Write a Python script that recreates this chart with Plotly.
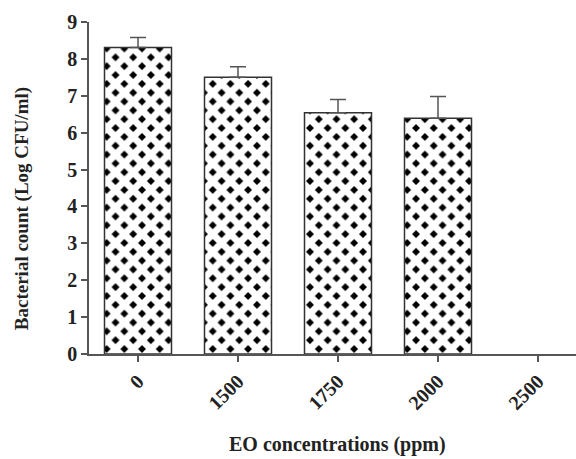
import plotly.graph_objects as go

categories = ["0", "1500", "1750", "2000", "2500"]
values = [8.31, 7.50, 6.54, 6.39, 0]
errors = [0.27, 0.29, 0.36, 0.59, 0]
x_title = "EO concentrations (ppm)"
y_title = "Bacterial count (Log CFU/ml)"

font_family = "Liberation Serif, Times New Roman, serif"
txt = "#222222"

has_bar = [v > 0 for v in values]

fig = go.Figure()
fig.add_trace(go.Bar(
    x=categories,
    y=values,
    width=0.67,
    marker=dict(
        color="white",
        line=dict(color=["#333333" if h else "rgba(0,0,0,0)" for h in has_bar],
                  width=1.5),
        pattern=dict(shape="x", fgcolor="white", bgcolor="black",
                     size=12.5, solidity=0.8, fillmode="replace"),
    ),
))
# error bars only on categories that have a bar
ex = [c for c, h in zip(categories, has_bar) if h]
ey = [v for v, h in zip(values, has_bar) if h]
ee = [e for e, h in zip(errors, has_bar) if h]
fig.add_trace(go.Scatter(
    x=ex, y=ey, mode="markers",
    marker=dict(size=1, color="rgba(0,0,0,0)"),
    hoverinfo="skip",
    error_y=dict(type="data", symmetric=False, array=ee,
                 arrayminus=[0] * len(ee),
                 color="#555555", thickness=1.5, width=8),
))

fig.update_layout(
    width=576, height=459,
    margin=dict(l=89, r=0, t=22, b=105, autoexpand=False),
    paper_bgcolor="white", plot_bgcolor="white",
    showlegend=False,
    font=dict(family=font_family, color=txt),
    xaxis=dict(
        range=[-0.49, 4.38], automargin=False,
        showline=True, linecolor="#555555", linewidth=1.5,
        ticks="outside", ticklen=6, tickcolor="#555555", tickwidth=1.5,
        tickangle=-45,
        tickfont=dict(family=font_family, size=20, color=txt, weight="bold"),
        showgrid=False, zeroline=False,
    ),
    yaxis=dict(
        range=[0, 9], dtick=1, automargin=False,
        showline=True, linecolor="#555555", linewidth=1.5,
        ticks="outside", ticklen=6, tickcolor="#555555", tickwidth=1.5,
        tickfont=dict(family=font_family, size=20, color=txt, weight="bold"),
        showgrid=False, zeroline=False,
    ),
    annotations=[
        dict(text="<b>" + x_title + "</b>", xref="paper", yref="paper",
             x=0.511, y=-0.274, showarrow=False, xanchor="center", yanchor="middle",
             font=dict(family=font_family, size=20, color=txt)),
        dict(text="<b>" + y_title + "</b>", xref="paper", yref="paper",
             x=-0.137, y=0.437, showarrow=False, xanchor="center", yanchor="middle",
             textangle=-90,
             font=dict(family=font_family, size=19, color=txt)),
    ],
)

fig.write_html("out.html", config={"displayModeBar": False},
               post_script="document.body.style.margin='0px';")
